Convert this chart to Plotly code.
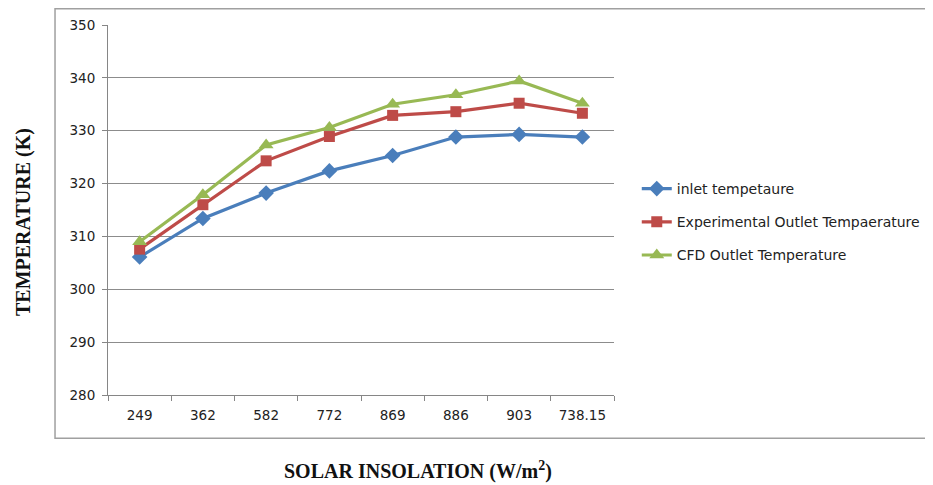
import plotly.graph_objects as go

categories = ["249", "362", "582", "772", "869", "886", "903", "738.15"]
inlet = [306.1, 313.4, 318.2, 322.4, 325.3, 328.8, 329.3, 328.8]
experimental = [307.6, 316.0, 324.3, 328.9, 332.9, 333.6, 335.2, 333.3]
cfd = [309.0, 317.9, 327.3, 330.6, 335.0, 336.8, 339.4, 335.2]

names = ["inlet tempetaure", "Experimental Outlet Tempaerature", "CFD Outlet Temperature"]
colors = ["#4A7EBB", "#BE4B48", "#98B954"]
symbols = ["diamond", "square", "triangle-up"]
sizes = [12, 11, 13]

fig = go.Figure()
for i, (vals, nm) in enumerate(zip([inlet, experimental, cfd], names)):
    fig.add_trace(go.Scatter(
        x=categories, y=vals, name=nm, mode="lines+markers",
        legendgroup=f"g{i}",
        line=dict(color=colors[i], width=3.2),
        marker=dict(symbol=symbols[i], size=sizes[i], color=colors[i]),
    ))

tickfont = dict(family="DejaVu Sans", size=13.5, color="#222")

fig.update_layout(
    width=925, height=477,
    margin=dict(l=100, r=319, t=17, b=90, autoexpand=False),
    plot_bgcolor="white", paper_bgcolor="white",
    showlegend=True,
    legend=dict(x=1.045, y=0.6, xanchor="left", yanchor="top",
                font=dict(family="DejaVu Sans", size=14, color="#222"),
                tracegroupgap=12, itemwidth=30, bgcolor="rgba(0,0,0,0)"),
    xaxis=dict(type="category", tickson="boundaries", ticks="outside", ticklen=5,
               tickcolor="#868686", showline=True, linecolor="#868686", linewidth=1,
               showgrid=False, tickfont=tickfont, ticklabelstandoff=8,
               range=[-0.5, 7.5]),
    yaxis=dict(range=[280, 350], dtick=10, ticks="outside", ticklen=5,
               tickcolor="#868686", showline=True, linecolor="#868686", linewidth=1,
               showgrid=True, gridcolor="#8c8c8c", gridwidth=1.2, zeroline=False,
               tickfont=tickfont, ticklabelstandoff=4),
    shapes=[dict(type="rect", xref="paper", yref="paper",
                 x0=-0.1047, x1=1.7, y0=-0.117, y1=1.0439,
                 line=dict(color="#a0a0a0", width=1.5), layer="below")],
    annotations=[
        dict(text="<b>TEMPERATURE (K)</b>", xref="paper", yref="paper",
             x=(23 - 108) / 506, y=(395 - 222) / 370, textangle=-90, showarrow=False,
             xanchor="center", yanchor="middle",
             font=dict(family="Liberation Serif", size=20, color="#111")),
        dict(text="<b>SOLAR INSOLATION (W/m<sup>2</sup>)</b>", xref="paper", yref="paper",
             x=(418 - 108) / 506, y=(395 - 470) / 370, showarrow=False,
             xanchor="center", yanchor="middle",
             font=dict(family="Liberation Serif", size=20, color="#111")),
    ],
)

fig.write_html("out.html")
